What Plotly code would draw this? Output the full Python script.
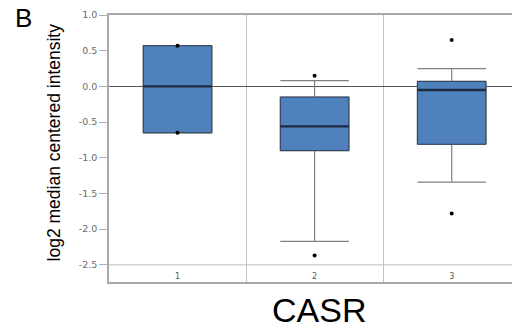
import plotly.graph_objects as go

# ---- data ----
groups = [1, 2, 3]
tick_labels_x = ["1", "2", "3"]
q1 = [-0.65, -0.90, -0.81]
median = [0.0, -0.56, -0.05]
q3 = [0.57, -0.15, 0.07]
lower_whisker = [-0.65, -2.17, -1.34]
upper_whisker = [0.57, 0.08, 0.25]
outlier_x = [1, 1, 2, 2, 3, 3]
outlier_y = [0.57, -0.65, 0.15, -2.37, 0.65, -1.78]
y_tickvals = [1.0, 0.5, 0.0, -0.5, -1.0, -1.5, -2.0, -2.5]
y_ticktext = ["1.0", "0.5", "0.0", "-0.5", "-1.0", "-1.5", "-2.0", "-2.5"]
gene = "CASR"
panel = "B"
y_title = "log2 median centered intensity"

FONT = "Liberation Sans, Arial, sans-serif"
FILL = "#4f81bd"

fig = go.Figure()

# box with gray whiskers
fig.add_trace(go.Box(
    x=groups, q1=q1, median=median, q3=q3,
    lowerfence=lower_whisker, upperfence=upper_whisker,
    width=0.5, whiskerwidth=1, fillcolor=FILL,
    line=dict(color="#808080", width=1.2),
    boxpoints=False, hoverinfo="skip", showlegend=False,
))
# darker box outline (no whiskers)
fig.add_trace(go.Box(
    x=groups, q1=q1, median=median, q3=q3,
    lowerfence=q1, upperfence=q3,
    width=0.5, whiskerwidth=0, fillcolor=FILL,
    line=dict(color="#2f3f55", width=1),
    boxpoints=False, hoverinfo="skip", showlegend=False,
))
# thick median line
fig.add_trace(go.Box(
    x=groups, q1=median, median=median, q3=median,
    lowerfence=median, upperfence=median,
    width=0.5, whiskerwidth=0, fillcolor="#1c2b40",
    line=dict(color="#1c2b40", width=2.4),
    boxpoints=False, hoverinfo="skip", showlegend=False,
))
# outlier / extreme points
fig.add_trace(go.Scatter(
    x=outlier_x, y=outlier_y, mode="markers",
    marker=dict(color="black", size=4),
    hoverinfo="skip", showlegend=False,
))

fig.add_shape(type="line", xref="paper", x0=0, x1=1, yref="y", y0=-2.5, y1=-2.5,
              line=dict(color="#c8c8c8", width=1.2), layer="below")

fig.update_layout(
    width=512, height=331,
    margin=dict(l=109, r=0, t=15, b=49),
    paper_bgcolor="white", plot_bgcolor="white",
    boxmode="overlay",
    font=dict(family=FONT),
    xaxis=dict(
        range=[0.5, 3.44], tickvals=groups, ticktext=tick_labels_x,
        ticks="", ticklabelposition="inside",
        tickfont=dict(family="DejaVu Sans", size=8, color="#555"),
        showgrid=False, zeroline=False,
        showline=True, mirror=True, linecolor="#a8a8a8", linewidth=1.5,
        minor=dict(tick0=0.5, dtick=1, showgrid=True, gridcolor="#c0c0c0", gridwidth=1.2, ticks=""),
    ),
    yaxis=dict(
        range=[-2.74, 1.0], tickvals=y_tickvals, ticktext=y_ticktext,
        ticks="outside", ticklen=8, tickcolor="#b0b0b0",
        tickfont=dict(family="DejaVu Sans", size=9.5, color="#6a6a6a"),
        showgrid=False,
        zeroline=True, zerolinecolor="#555", zerolinewidth=1.2,
        showline=True, linecolor="#a8a8a8", linewidth=1.5,
    ),
    annotations=[
        dict(text=y_title, xref="paper", yref="paper", x=-0.137, y=0.522,
             textangle=-90, showarrow=False, xanchor="center", yanchor="middle",
             font=dict(size=17.5, color="black")),
        dict(text=panel, xref="paper", yref="paper", x=-0.212, y=1.0,
             showarrow=False, xanchor="center", yanchor="middle",
             font=dict(size=26, color="black"), yshift=-3),
        dict(text=gene, xref="paper", yref="paper", x=0.52, y=-0.105,
             showarrow=False, xanchor="center", yanchor="middle",
             font=dict(size=34, color="black")),
    ],
)

fig.write_html("out.html", config={"displayModeBar": False},
               post_script="document.body.style.margin='0';document.body.style.overflow='hidden';")
